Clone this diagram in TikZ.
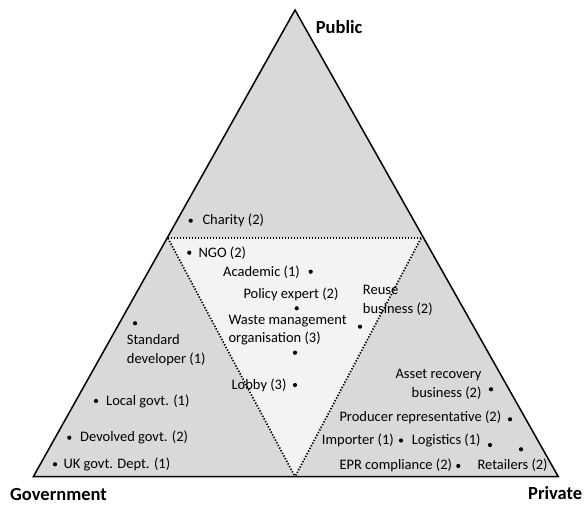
\documentclass[tikz,border=0pt]{standalone}
\usepackage{fontspec}
\setmainfont{Carlito}
\definecolor{outergray}{RGB}{217,217,217}
\definecolor{innergray}{RGB}{243,243,243}
\begin{document}
\begin{tikzpicture}[x=1pt,y=-1pt,
  lbl/.style={font=\fontsize{14.5}{18.5}\selectfont, inner sep=0pt},
  dot/.style={circle, fill=black, inner sep=0pt, minimum size=4.2pt},
  corner/.style={font=\fontsize{18.5}{22}\selectfont\bfseries, inner sep=0pt},
  dotline/.style={line width=1.7pt, dash pattern=on 1.3pt off 1.7pt}]
\useasboundingbox (0,0) rectangle (584,506);
% triangle corners
\coordinate (apex) at (295,10);
\coordinate (bl) at (33.3,476.7);
\coordinate (br) at (558.3,476.7);
\coordinate (il) at (168,238.3);
\coordinate (ir) at (421,238.3);
\coordinate (ib) at (295,476.7);
\fill[outergray] (apex) -- (bl) -- (br) -- cycle;
\fill[innergray] (il) -- (ir) -- (ib) -- cycle;
\draw[dotline] (il) -- (ir);
\draw[dotline] (il) -- (ib);
\draw[dotline] (ir) -- (ib);
\draw[line width=1.5pt, line join=miter] (apex) -- (bl) -- (br) -- cycle;
% corner labels
\node[corner, anchor=west] (pub) at (315.7,26.7) {Public};
\node[corner, anchor=west] (gov) at (10,494) {Government};
\node[corner, anchor=west] (pri) at (528,493) {Private};
% items
\node[dot] (d1) at (190.7,220.7) {};
\node[lbl, anchor=west] (t1) at (202.3,220.7) {Charity (2)};
\node[dot] (d2) at (189.3,252.7) {};
\node[lbl, anchor=west] (t2) at (198.3,252.7) {NGO (2)};
\node[dot] (d3) at (310.7,271.7) {};
\node[lbl, anchor=east] (t3) at (300,271.7) {Academic (1)};
\node[dot] (d4) at (296.7,308.3) {};
\node[lbl, anchor=west] (t4) at (243.3,294.3) {Policy expert (2)};
\node[dot] (d5) at (295,352.7) {};
\node[lbl, anchor=west, align=left] (t5) at (228.3,330) {Waste management\\organisation (3)};
\node[dot] (d6) at (360,326.7) {};
\node[lbl, anchor=west, align=left] (t6) at (362.7,300.2) {Reuse\\business (2)};
\node[dot] (d7) at (135,323.3) {};
\node[lbl, anchor=west, align=left] (t7) at (126.7,350) {Standard\\developer (1)};
\node[dot] (d8) at (295,385) {};
\node[lbl, anchor=east] (t8) at (286.7,385) {Lobby (3)};
\node[dot] (d9) at (96,401) {};
\node[lbl, anchor=west] (t9) at (106,401) {Local govt. (1)};
\node[dot] (d10) at (69.3,437.7) {};
\node[lbl, anchor=west] (t10) at (80,437.5) {Devolved govt. (2)};
\node[dot] (d11) at (55,464.3) {};
\node[lbl, anchor=west] (t11) at (63.3,464.3) {UK govt. Dept. (1)};
\node[dot] (d12) at (491,389.3) {};
\node[lbl, anchor=east, align=right] (t12) at (481.7,384.2) {Asset recovery\\business (2)};
\node[dot] (d13) at (510,419.3) {};
\node[lbl, anchor=west] (t13) at (339.3,417.7) {Producer representative (2)};
\node[dot] (d14) at (401,440.5) {};
\node[lbl, anchor=west] (t14) at (321.7,440.7) {Importer (1)};
\node[dot] (d15) at (490,445) {};
\node[lbl, anchor=west] (t15) at (411.7,440.7) {Logistics (1)};
\node[dot] (d16) at (521,449.3) {};
\node[lbl, anchor=west] (t16) at (477.3,465) {Retailers (2)};
\node[dot] (d17) at (458.3,466) {};
\node[lbl, anchor=west] (t17) at (339.3,465) {EPR compliance (2)};
\end{tikzpicture}
\end{document}
